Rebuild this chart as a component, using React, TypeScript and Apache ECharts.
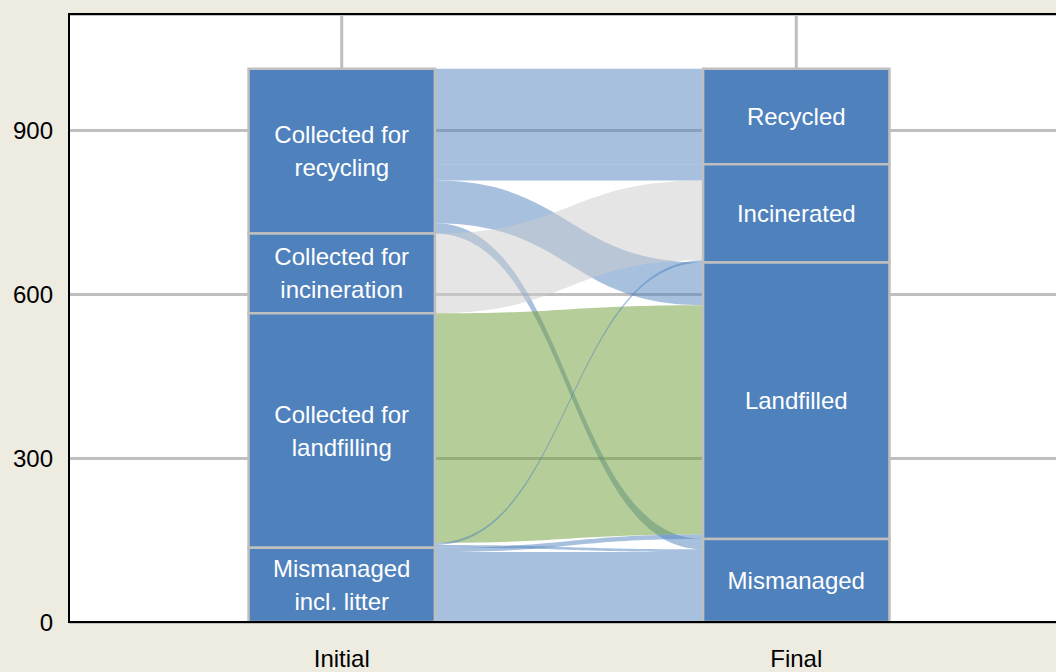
import React, { useEffect, useRef } from 'react';
import * as echarts from 'echarts';

// ---- data ----
const stageLabels = ['Initial', 'Final'];
const initialNodes = [
  'Collected for\nrecycling',
  'Collected for\nincineration',
  'Collected for\nlandfilling',
  'Mismanaged\nincl. litter',
];
const finalNodes = ['Recycled', 'Incinerated', 'Landfilled', 'Mismanaged'];
// links: source index (initial), target index (final), value
const linkSource = [0, 0, 0, 0, 1, 2, 2, 2, 3, 3];
const linkTarget = [0, 1, 2, 3, 1, 2, 1, 3, 2, 3];
const linkValue = [175, 30, 78, 19, 146, 420, 4, 5, 8, 128];
const yTicks = [0, 300, 600, 900];

// ---- styles ----
const BLUE = 'rgba(79,129,189,0.5)';
const GRAY = 'rgba(204,204,204,0.5)';
const GREEN = 'rgba(107,155,49,0.5)';
const linkPalette = [BLUE, BLUE, BLUE, BLUE, GRAY, GREEN, BLUE, BLUE, BLUE, BLUE];
const FONT = "'Liberation Sans', Arial, Helvetica, sans-serif";
const NODE_HALF = 0.205;
const Y_MAX = 1113;
const X_MIN = -0.6;
const X_MAX = 1.6;

// ---- layout in value space ----
function stackNodes(count: number, key: number[]) {
  const totals = new Array(count).fill(0);
  linkValue.forEach((v, i) => { totals[key[i]] += v; });
  const tops: number[] = new Array(count).fill(0);
  let acc = 0;
  for (let i = count - 1; i >= 0; i--) {
    acc += totals[i];
    tops[i] = acc;
  }
  return { totals, tops };
}
const initLayout = stackNodes(initialNodes.length, linkSource);
const finalLayout = stackNodes(finalNodes.length, linkTarget);

const srcTop: number[] = [];
{
  const off = new Array(initialNodes.length).fill(0);
  linkValue.forEach((v, i) => {
    const s = linkSource[i];
    srcTop[i] = initLayout.tops[s] - off[s];
    off[s] += v;
  });
}
const tgtTop: number[] = [];
{
  const off = new Array(finalNodes.length).fill(0);
  const order = linkValue.map((_, i) => i).sort((a, b) => linkSource[a] - linkSource[b] || a - b);
  order.forEach((i) => {
    const t = linkTarget[i];
    tgtTop[i] = finalLayout.tops[t] - off[t];
    off[t] += linkValue[i];
  });
}

export default function App() {
  const ref = useRef<HTMLDivElement>(null);
  useEffect(() => {
    if (!ref.current) return;
    const chart = echarts.init(ref.current, undefined, { renderer: 'svg' });

    const nodeData: number[][] = [];
    initialNodes.forEach((_, i) => nodeData.push([0, initLayout.tops[i] - initLayout.totals[i] / 2, 0, i]));
    finalNodes.forEach((_, i) => nodeData.push([1, finalLayout.tops[i] - finalLayout.totals[i] / 2, 1, i]));

    chart.setOption({
      animation: false,
      backgroundColor: '#EEEBE1',
      grid: {
        left: 69, right: -13, top: 14, bottom: 50,
        containLabel: false, outerBoundsMode: 'none',
        show: true, backgroundColor: '#fff', borderColor: '#000', borderWidth: 2,
      },
      xAxis: [
        {
          type: 'value', min: X_MIN, max: X_MAX, interval: 0.2, position: 'bottom', z: 10,
          axisLine: { show: true, onZero: false, lineStyle: { color: '#000', width: 2 } },
          axisTick: { show: false },
          splitLine: { show: false },
          axisLabel: {
            margin: 26, fontSize: 24, lineHeight: 20, color: '#000', fontFamily: FONT,
            formatter: (v: number) => {
              for (let i = 0; i < stageLabels.length; i++) if (Math.abs(v - i) < 1e-6) return stageLabels[i];
              return '';
            },
          },
        },
        {
          type: 'value', min: X_MIN, max: X_MAX, position: 'top', z: 10,
          axisLine: { show: true, onZero: false, lineStyle: { color: '#000', width: 2 } },
          axisTick: { show: false },
          splitLine: { show: false },
          axisLabel: { show: false },
        },
      ],
      yAxis: [
        {
          type: 'value', min: 0, max: Y_MAX, interval: 300, position: 'left',
          axisLine: { show: true, onZero: false, lineStyle: { color: '#000', width: 2 } },
          axisTick: { show: false },
          splitLine: { lineStyle: { color: '#BFBFBF', width: 3 } },
          axisLabel: {
            margin: 16, fontSize: 24, color: '#000', fontFamily: FONT, showMaxLabel: false,
            formatter: (v: number) => (yTicks.indexOf(v) >= 0 ? String(v) : ''),
          },
        },
      ],
      series: [
        {
          type: 'custom', z: 1, silent: true,
          data: stageLabels.map((_, i) => [i, Y_MAX / 2]),
          renderItem: (params: any, api: any) => {
            const x = api.value(0);
            const p0 = api.coord([x, Y_MAX]);
            const p1 = api.coord([x, 0]);
            return {
              type: 'line',
              shape: { x1: p0[0], y1: p0[1], x2: p1[0], y2: p1[1] },
              style: { stroke: '#BFBFBF', lineWidth: 3 },
            };
          },
        },
        {
          type: 'custom', z: 2, silent: true,
          data: linkValue.map((v, i) => [0.5, v, i]),
          renderItem: (params: any, api: any) => {
            const i = api.value(2);
            const v = linkValue[i];
            const x0 = api.coord([NODE_HALF, 0])[0];
            const x1 = api.coord([1 - NODE_HALF, 0])[0];
            const y0t = api.coord([0, srcTop[i]])[1];
            const y0b = api.coord([0, srcTop[i] - v])[1];
            const y1t = api.coord([1, tgtTop[i]])[1];
            const y1b = api.coord([1, tgtTop[i] - v])[1];
            const xm = (x0 + x1) / 2;
            const d = `M${x0},${y0t}C${xm},${y0t} ${xm},${y1t} ${x1},${y1t}L${x1},${y1b}C${xm},${y1b} ${xm},${y0b} ${x0},${y0b}Z`;
            return {
              type: 'path',
              shape: { pathData: d },
              style: { fill: linkPalette[i], stroke: null },
            };
          },
        },
        {
          type: 'custom', z: 3, silent: true,
          data: nodeData,
          renderItem: (params: any, api: any) => {
            const col = api.value(2);
            const idx = api.value(3);
            const layout = col === 0 ? initLayout : finalLayout;
            const names = col === 0 ? initialNodes : finalNodes;
            const top = layout.tops[idx];
            const bottom = top - layout.totals[idx];
            const pTL = api.coord([col - NODE_HALF, top]);
            const pBR = api.coord([col + NODE_HALF, bottom]);
            return {
              type: 'rect',
              shape: { x: pTL[0], y: pTL[1], width: pBR[0] - pTL[0], height: pBR[1] - pTL[1] },
              style: { fill: '#4F81BD', stroke: '#BFBFBF', lineWidth: 2.5 },
              textContent: {
                style: {
                  text: names[idx], fill: '#fff', fontSize: 24, lineHeight: 33,
                  fontFamily: FONT, align: 'center', verticalAlign: 'middle',
                },
              },
              textConfig: { position: 'inside' },
            };
          },
        },
      ],
    });
    return () => chart.dispose();
  }, []);
  return (
    <div
      ref={ref}
      style={{ position: 'fixed', left: 0, top: 0, width: '1056px', height: '672px' }}
    />
  );
}
